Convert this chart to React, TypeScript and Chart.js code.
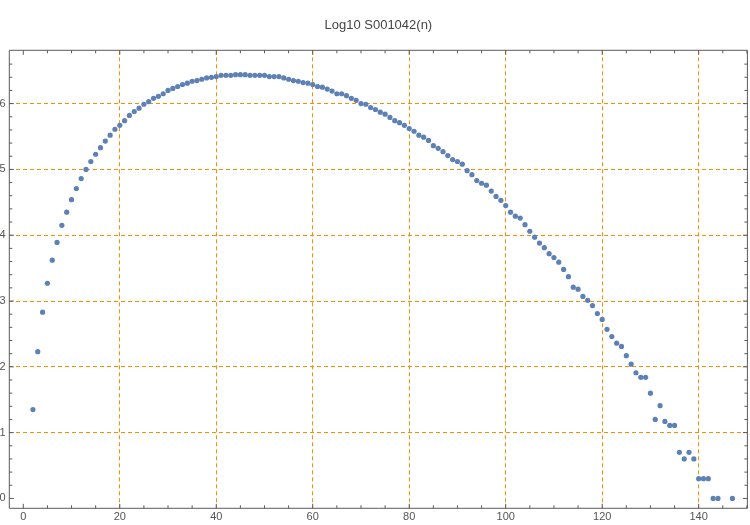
import React, { useEffect, useRef } from 'react';
import { Chart, registerables } from 'chart.js';

Chart.register(...registerables);

const TITLE = 'Log10 S001042(n)';

const N_VALUES = [
  2, 3, 4, 5, 6, 7, 8, 9, 10, 11, 12, 13, 14, 15, 16, 17, 18, 19, 20,
  21, 22, 23, 24, 25, 26, 27, 28, 29, 30, 31, 32, 33, 34, 35, 36, 37, 38, 39, 40,
  41, 42, 43, 44, 45, 46, 47, 48, 49, 50, 51, 52, 53, 54, 55, 56, 57, 58, 59, 60,
  61, 62, 63, 64, 65, 66, 67, 68, 69, 70, 71, 72, 73, 74, 75, 76, 77, 78, 79, 80,
  81, 82, 83, 84, 85, 86, 87, 88, 89, 90, 91, 92, 93, 94, 95, 96, 97, 98, 99, 100,
  101, 102, 103, 104, 105, 106, 107, 108, 109, 110, 111, 112, 113, 114, 115, 116, 117, 118, 119, 120,
  121, 122, 123, 124, 125, 126, 127, 128, 129, 130, 131, 132, 133, 134, 135, 136, 137, 138, 139, 140,
  141, 142, 143, 144, 147,
];

const LOG_VALUES = [
  1.35, 2.23, 2.83, 3.27, 3.62, 3.89, 4.15, 4.35, 4.54, 4.71, 4.86, 5.0, 5.12, 5.23, 5.33, 5.43, 5.52, 5.61, 5.67,
  5.74, 5.82, 5.88, 5.93, 5.99, 6.03, 6.08, 6.11, 6.15, 6.2, 6.23, 6.26, 6.29, 6.31, 6.34, 6.35, 6.37, 6.39, 6.4, 6.41,
  6.43, 6.43, 6.43, 6.44, 6.44, 6.44, 6.43, 6.43, 6.43, 6.43, 6.41, 6.41, 6.41, 6.39, 6.37, 6.35, 6.34, 6.32, 6.31, 6.29,
  6.26, 6.25, 6.22, 6.19, 6.15, 6.15, 6.12, 6.08, 6.05, 6.0, 5.99, 5.94, 5.91, 5.87, 5.84, 5.79, 5.74, 5.71, 5.67, 5.62,
  5.58, 5.52, 5.49, 5.44, 5.36, 5.32, 5.27, 5.21, 5.15, 5.12, 5.08, 4.98, 4.92, 4.83, 4.79, 4.76, 4.67, 4.59, 4.53, 4.45,
  4.35, 4.29, 4.26, 4.16, 4.06, 3.97, 3.88, 3.81, 3.72, 3.66, 3.59, 3.48, 3.37, 3.21, 3.18, 3.07, 3.01, 2.93, 2.81, 2.72,
  2.57, 2.46, 2.36, 2.31, 2.17, 2.04, 1.91, 1.84, 1.84, 1.6, 1.2, 1.41, 1.17, 1.11, 1.11, 0.7, 0.6, 0.7, 0.6, 0.3,
  0.3, 0.3, 0, 0, 0,
];

const X_MAJOR_TICKS = [0, 20, 40, 60, 80, 100, 120, 140];
const Y_MAJOR_TICKS = [0, 1, 2, 3, 4, 5, 6];
const X_GRID = [20, 40, 60, 80, 100, 120, 140];
const Y_GRID = [1, 2, 3, 4, 5, 6];
const X_MINOR_STEP = 5;
const Y_MINOR_STEP = 0.2;

const X_MIN = -2.9;
const X_MAX = 150.1;
const Y_MIN = -0.15;
const Y_MAX = 6.81;

const POINT_COLOR = '#5e81b5';
const GRID_COLOR = '#ff8c00';
const FRAME_COLOR = '#5a5a5a';
const LABEL_COLOR = '#555555';
const FONT = 'Liberation Sans, Arial, sans-serif';

function buildTicks(min: number, max: number, step: number): number[] {
  const out: number[] = [];
  const start = Math.ceil(min / step);
  const end = Math.floor(max / step);
  for (let i = start; i <= end; i++) {
    const v = Math.round(i * step * 1000) / 1000;
    if (v > min + 0.01 && v < max - 0.01) out.push(v);
  }
  return out;
}

const near = (v: number, list: number[]) => list.some((t) => Math.abs(t - v) < 1e-6);

const framePlugin = {
  id: 'frameTicks',
  beforeDatasetsDraw(chart: any) {
    const { ctx, chartArea, scales } = chart;
    const { left, right, top, bottom } = chartArea;
    ctx.save();
    ctx.strokeStyle = FRAME_COLOR;
    ctx.lineWidth = 1;
    ctx.setLineDash([]);
    ctx.beginPath();
    ctx.rect(left, top, right - left, bottom - top);
    ctx.stroke();
    ctx.beginPath();
    scales.x.ticks.forEach((t: any) => {
      const px = scales.x.getPixelForValue(t.value);
      const len = near(t.value, X_MAJOR_TICKS) ? 4.5 : 3;
      ctx.moveTo(px, bottom);
      ctx.lineTo(px, bottom - len);
      ctx.moveTo(px, top);
      ctx.lineTo(px, top + len);
    });
    scales.y.ticks.forEach((t: any) => {
      const py = scales.y.getPixelForValue(t.value);
      const len = near(t.value, Y_MAJOR_TICKS) ? 4.5 : 3;
      ctx.moveTo(left, py);
      ctx.lineTo(left + len, py);
      ctx.moveTo(right, py);
      ctx.lineTo(right - len, py);
    });
    ctx.stroke();
    ctx.restore();
  },
};

export default function App() {
  const canvasRef = useRef<HTMLCanvasElement | null>(null);

  useEffect(() => {
    if (!canvasRef.current) return;
    const points = N_VALUES.map((n, i) => ({ x: n, y: LOG_VALUES[i] }));
    const chart = new Chart(canvasRef.current, {
      type: 'scatter',
      data: {
        datasets: [
          {
            data: points,
            backgroundColor: POINT_COLOR,
            borderColor: POINT_COLOR,
            borderWidth: 0,
            pointRadius: 2.6,
            pointHoverRadius: 2.6,
          },
        ],
      },
      options: {
        animation: false,
        responsive: false,
        maintainAspectRatio: false,
        events: [],
        layout: { padding: { left: 0, right: 2.3, top: 0, bottom: 0 } },
        plugins: {
          legend: { display: false },
          tooltip: { enabled: false },
          title: {
            display: true,
            fullSize: false,
            text: TITLE,
            color: '#444444',
            font: { family: FONT, size: 13, weight: 'normal', lineHeight: 1.2 },
            padding: { top: 17.2, bottom: 17.5 },
          },
        },
        scales: {
          x: {
            type: 'linear',
            min: X_MIN,
            max: X_MAX,
            afterBuildTicks: (scale: any) => {
              scale.ticks = buildTicks(X_MIN, X_MAX, X_MINOR_STEP).map((v) => ({ value: v }));
            },
            afterFit: (scale: any) => {
              scale.height = 16.7;
            },
            grid: {
              drawTicks: false,
              lineWidth: 1,
              color: (c: any) => (near(c.tick?.value, X_GRID) ? GRID_COLOR : 'rgba(0,0,0,0)'),
            },
            border: { display: false, dash: [4, 3] },
            ticks: {
              autoSkip: false,
              maxRotation: 0,
              minRotation: 0,
              padding: 2,
              color: LABEL_COLOR,
              font: { family: FONT, size: 11 },
              callback: (v: any) => (near(Number(v), X_MAJOR_TICKS) ? String(Math.round(Number(v))) : ''),
            },
          },
          y: {
            type: 'linear',
            min: Y_MIN,
            max: Y_MAX,
            afterBuildTicks: (scale: any) => {
              scale.ticks = buildTicks(Y_MIN, Y_MAX, Y_MINOR_STEP).map((v) => ({ value: v }));
            },
            afterFit: (scale: any) => {
              scale.width = 9.3;
            },
            grid: {
              drawTicks: false,
              lineWidth: 1,
              color: (c: any) => (near(c.tick?.value, Y_GRID) ? GRID_COLOR : 'rgba(0,0,0,0)'),
            },
            border: { display: false, dash: [4, 3] },
            ticks: {
              autoSkip: false,
              padding: 3.8,
              color: LABEL_COLOR,
              font: { family: FONT, size: 11 },
              callback: (v: any) => (near(Number(v), Y_MAJOR_TICKS) ? String(Math.round(Number(v))) : ''),
            },
          },
        },
      },
      plugins: [framePlugin],
    } as any);
    return () => chart.destroy();
  }, []);

  return (
    <div style={{ position: 'absolute', left: 0, top: 0, width: 750, height: 525, background: '#ffffff' }}>
      <canvas ref={canvasRef} width={750} height={525} style={{ width: 750, height: 525, display: 'block' }} />
    </div>
  );
}
